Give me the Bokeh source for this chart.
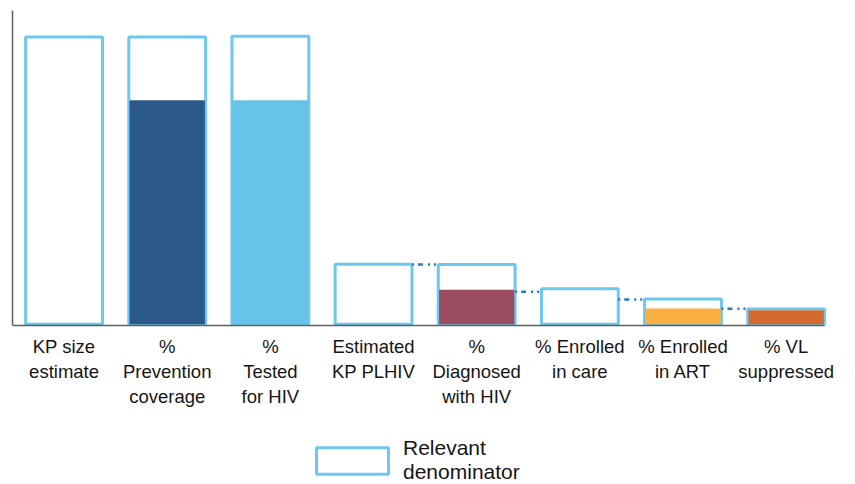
from bokeh.plotting import figure
from bokeh.models import Range1d, FixedTicker, Legend, LegendItem, ColumnDataSource
from bokeh.embed import file_html
from bokeh.resources import INLINE

# ---- data ----
categories = ["KP size\nestimate", "%\nPrevention\ncoverage", "%\nTested\nfor HIV",
              "Estimated\nKP PLHIV", "%\nDiagnosed\nwith HIV", "% Enrolled\nin care",
              "% Enrolled\nin ART", "% VL\nsuppressed"]
denominators = [100, 100, 100.3, 20.9, 20.8, 12.4, 8.8, 5.3]
numerators = [None, 78, 78, None, 12.0, None, 5.5, 4.9]
numerator_colors = [None, "#2A5887", "#66C4EA", None, "#9C4D62", None, "#FBB040", "#D56A30"]
# dotted connector level between bar i and bar i+1
connector_levels = [None, None, None, 20.8, 11.3, 8.6, 5.4]
legend_label = "Relevant\ndenominator"

OUTLINE = "#6CC8EE"
BAR_W = 0.745
AXIS_Y = -0.5
Y_TOP = 109.27

xs = list(range(len(categories)))

p = figure(width=847, height=484, x_range=Range1d(-0.5, 7.585), y_range=Range1d(-55.8, Y_TOP),
           output_backend="svg", toolbar_location=None,
           min_border_left=12, min_border_right=1, min_border_top=10, min_border_bottom=0)
p.outline_line_color = None
p.xgrid.visible = False
p.ygrid.visible = False

den_src = ColumnDataSource(dict(x=xs, top=denominators))
den_r = p.vbar(x="x", top="top", bottom=0, width=BAR_W, source=den_src,
               fill_color="white", line_color=OUTLINE, line_width=3)

nx = [x for x, v in zip(xs, numerators) if v is not None]
nv = [v for v in numerators if v is not None]
nc = [c for c, v in zip(numerator_colors, numerators) if v is not None]
num_src = ColumnDataSource(dict(x=nx, top=nv, color=nc))
p.vbar(x="x", top="top", bottom=0, width=BAR_W - 0.015, source=num_src,
       fill_color="color", line_color=None)

cx0, cx1, cy = [], [], []
for i, lvl in enumerate(connector_levels):
    if lvl is None:
        continue
    cx0.append(xs[i] + BAR_W / 2)
    cx1.append(xs[i + 1] - BAR_W / 2)
    cy.append(lvl)
p.segment(x0=cx0, y0=cy, x1=cx1, y1=cy, line_color="#2878C8", line_width=2.5,
          line_dash="2 4 5 5 2 4")

# axes
xa = p.xaxis[0]
xa.fixed_location = AXIS_Y
xa.bounds = (-0.5, xs[-1] + BAR_W / 2)
xa.ticker = FixedTicker(ticks=xs)
xa.major_label_overrides = {i: c for i, c in zip(xs, categories)}
xa.major_tick_line_color = None
xa.minor_tick_line_color = None
xa.axis_line_color = "#5f5f5f"
xa.axis_line_width = 1.5
xa.major_label_text_font = "Liberation Sans"
xa.major_label_text_font_size = "18.5px"
xa.major_label_text_color = "#151515"
xa.major_label_text_line_height = 1.2
xa.major_label_standoff = 4

ya = p.yaxis[0]
ya.bounds = (AXIS_Y, Y_TOP)
ya.ticker = FixedTicker(ticks=[])
ya.major_tick_line_color = None
ya.minor_tick_line_color = None
ya.major_label_standoff = 0
ya.axis_line_color = "#5f5f5f"
ya.axis_line_width = 1.5

legend = Legend(items=[LegendItem(label=legend_label, renderers=[den_r])],
                location=(295, 0), orientation="horizontal",
                glyph_width=90, glyph_height=33,
                label_text_font="Liberation Sans", label_text_font_size="21px",
                label_text_color="#151515", label_text_line_height=1.1,
                label_standoff=6, border_line_color=None, background_fill_alpha=0,
                padding=0, margin=0)
p.add_layout(legend, "center")

open("out.html", "w").write(file_html(p, INLINE))
